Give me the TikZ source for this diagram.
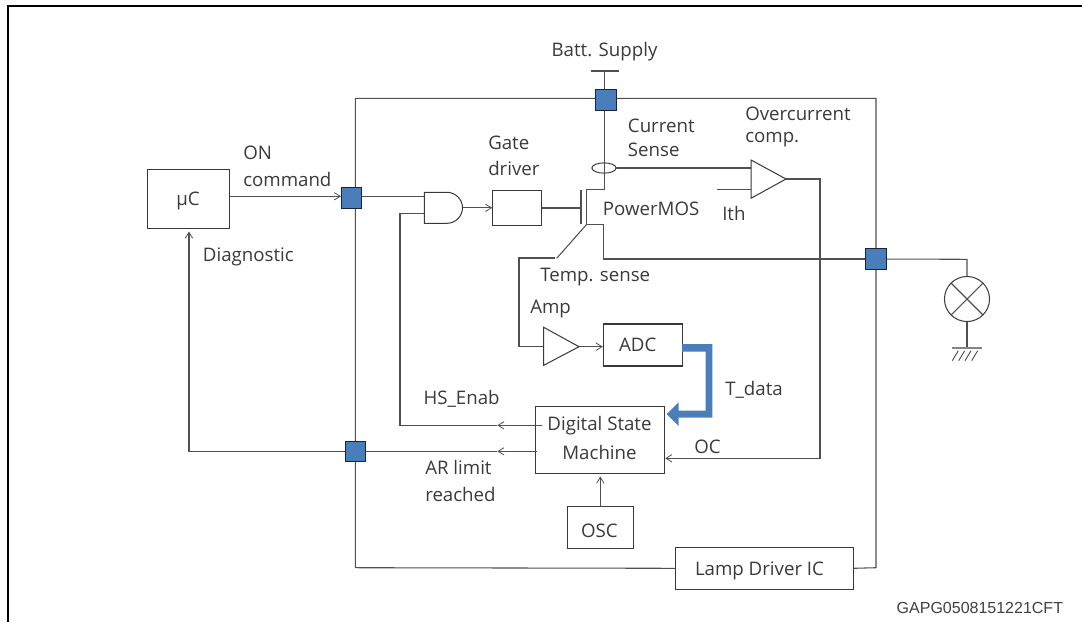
\documentclass[tikz,border=0pt]{standalone}
\usepackage{fontspec}
\setmainfont{Open Sans}
\setsansfont{Liberation Sans}
\usetikzlibrary{arrows.meta,shapes.geometric}
\definecolor{wire}{HTML}{505050}
\definecolor{pinblue}{HTML}{4A7EBB}
\definecolor{txt}{HTML}{3A3A3A}
\tikzset{
  x=0.75pt,y=-0.75pt,
  wireline/.style={draw=wire,line width=0.8pt},
  box/.style={draw=black!78,line width=0.8pt,fill=white,inner sep=0pt},
  pin/.style={draw=black!70!pinblue,fill=pinblue,line width=0.6pt,minimum size=15.6pt,inner sep=0pt,outer sep=0pt,rectangle},
  lab/.style={text=txt,font=\fontsize{14}{17}\selectfont,inner sep=0pt},
  lableft/.style={lab,anchor=west},
  tip/.style={-{Straight Barb[length=4.5pt,width=5.5pt,line width=0.6pt]}},
  gateshape/.style={draw=black!78,line width=0.75pt,fill=white}
}
\begin{document}
\begin{tikzpicture}
\useasboundingbox (0,0) rectangle (1082,622);
% frame
\draw[black,line width=1.6pt] (8,622) -- (8,6) -- (1082,6);
% pin positions
\coordinate (pinT) at (605.5,100);
\coordinate (pinL) at (351.3,198);
\coordinate (pinD) at (355.3,451.3);
\coordinate (pinR) at (876,259);
% boxes
\node[box,minimum width=133pt,minimum height=31.5pt] (lamp) at (764.4,568.3) {};
\node[lab] (lamptext) at (759.5,571) {Lamp Driver IC};
\node[box,minimum width=61.7pt,minimum height=44.6pt] (uc) at (188.8,199) {};
\node[lab] (uctext) at (188,201) {µC};
\node[box,minimum width=36.75pt,minimum height=26.55pt] (gd) at (517.2,208) {};
\node[box,minimum width=59pt,minimum height=31.5pt] (adc) at (642.7,345) {};
\node[lab] (adct) at (637.7,345) {ADC};
\node[box,minimum width=97pt,minimum height=50.5pt] (fsm) at (600,439.7) {};
\node[box,minimum width=49.5pt,minimum height=31.2pt] (osc) at (600.7,527.5) {};
\node[lab] (osct) at (599.3,530.7) {OSC};
% IC outline
\draw[wireline] (lamp.west) -- (355.3,567.7) -- (355.3,98.3) -- (876,98.3) -- (876,567.7) -- (lamp.east);
% battery
\coordinate (batttop) at (604.7,71);
\coordinate (battl) at (590.5,71);
\coordinate (battr) at (619,71);
\draw[wireline] (battl) -- (battr);
\node[lab] (batt) at (604.5,52) {Batt. Supply};
% drain wire and MOS
\coordinate (drain) at (604.7,189.3);
\coordinate (chanT) at (586.7,189.3);
\coordinate (chanB) at (586.7,224.3);
\coordinate (srcA) at (603.7,224.3);
\coordinate (srcB) at (603.7,259);
\coordinate (gateT) at (581,190);
\coordinate (gateB) at (581,224);
\draw[wireline] (batttop) -- (drain) -- (chanT) -- (chanB) -- (srcA) -- (srcB) -- (pinR);
\draw[wireline] (gateT) -- (gateB);
\draw[wireline] (gd.east) -- (581,208);
\node[lableft] (pm) at (602.7,209) {PowerMOS};
% uC connections
\draw[wireline,tip] (uc.east |- 0,196.3) -- (341,196.3);
\node[lableft] (on) at (243,153) {ON};
\node[lableft] (cmd) at (243,179) {command};
\node[lableft] (diag) at (202.7,257) {Diagnostic};
\coordinate (diagcorner) at (189,451.3);
\coordinate (diagend) at (189,231.5);
\draw[wireline,tip] (pinD) -- (diagcorner) -- (diagend);
% AND gate
\coordinate (andA) at (424.3,196.7);
\coordinate (andB) at (424.3,213.3);
\coordinate (andO) at (462.5,207.8);
\draw[wireline] (pinL |- andA) -- (andA);
\draw[gateshape] (424.3,192.3) -- (447,192.3) .. controls (455.5,192.3) and (462.5,199.3) .. (andO) .. controls (462.5,216.3) and (455.5,223.3) .. (447,223.3) -- (424.3,223.3) -- cycle;
\draw[wireline,tip] (andO) -- (gd.west |- andO);
\node[lableft] (gatel) at (488,143) {Gate};
\node[lableft] (gatel2) at (488,168) {driver};
% current sense
\node[draw=black!75,line width=0.75pt,ellipse,minimum width=18.2pt,minimum height=7.7pt,inner sep=0pt,outer sep=0pt] (cs) at (604,168) {};
\node[lableft] (cur1) at (627.7,125.7) {Current};
\node[lableft] (cur2) at (627.7,150) {Sense};
% comparator
\coordinate (caT) at (751,160);
\coordinate (caB) at (751,198.3);
\coordinate (caO) at (786,179);
\coordinate (caIn) at (751,168);
\coordinate (caIth) at (751,189.3);
\coordinate (ithstart) at (716.7,189.3);
\draw[wireline] (cs.east) -- (caIn);
\draw[wireline] (ithstart) -- (caIth);
\draw[gateshape] (caT) -- (caO) -- (caB) -- cycle;
\node[lableft] (ov1) at (745,114) {Overcurrent};
\node[lableft] (ov2) at (745,140) {comp.};
\node[lableft] (ith) at (722,213) {Ith};
% temp sense
\coordinate (tmid) at (556.7,258.3);
\coordinate (tleft) at (555,258);
\coordinate (tcorner) at (519,258);
\coordinate (aIn) at (519,346.7);
\coordinate (aT) at (543.7,327.3);
\coordinate (aB) at (543.7,365.3);
\coordinate (aO) at (579,346.7);
\draw[wireline] (chanB) -- (tmid);
\draw[wireline] (tleft) -- (tcorner) -- (aIn) -- (543.7,346.7);
\draw[gateshape] (aT) -- (aO) -- (aB) -- cycle;
\node[lableft] (temp) at (540,277) {Temp. sense};
\node[lableft] (ampl) at (530,309) {Amp};
\draw[wireline,tip] (aO) -- (adc.west |- aO);
% digital state machine
\node[lab] (f1) at (599.5,426) {Digital State};
\node[lab] (f2) at (599.5,452) {Machine};
% bus
\fill[pinblue] (682,344) -- (712.3,344) -- (712.3,417.7) -- (678.7,417.7) -- (678.7,426) -- (666.7,414) -- (678.7,402.3) -- (678.7,410.7) -- (705.7,410.7) -- (705.7,351.7) -- (682,351.7) -- cycle;
\node[lableft] (td) at (725,390) {T\_data};
% OSC arrow
\draw[wireline,tip] (600.3,506.7) -- (600.3,476.5);
% HS enable
\coordinate (hsstart) at (541.7,425.3);
\coordinate (hsmid) at (497.3,425.3);
\coordinate (hscorner) at (400,425.3);
\coordinate (hsup) at (400,213.3);
\draw[wireline,tip] (hsstart) -- (hsmid);
\draw[wireline] (hsmid) -- (hscorner) -- (hsup) -- (andB);
\node[lableft] (hs) at (423.3,399) {HS\_Enab};
% AR limit
\coordinate (arstart) at (537.3,451.3);
\coordinate (armid) at (497.3,451.3);
\draw[wireline,tip] (arstart) -- (armid);
\draw[wireline] (armid) -- (pinD);
\node[lableft] (ar1) at (425,467.7) {AR limit};
\node[lableft] (ar2) at (425,494) {reached};
% OC
\coordinate (oc1) at (820,179);
\coordinate (oc2) at (820,458.3);
\draw[wireline,tip] (caO) -- (oc1) -- (oc2) -- (fsm.east |- oc2);
\node[lableft] (oc) at (694,446.7) {OC};
% lamp
\node[draw=black!75,line width=0.8pt,circle,minimum size=33.8pt,inner sep=0pt,outer sep=0pt] (lampc) at (967,299) {};
\coordinate (lampcorner) at (967,259.3);
\draw[wireline] (pinR) -- (lampcorner) -- (lampc.north);
\draw[wireline] (lampc.45) -- (lampc.225);
\draw[wireline] (lampc.135) -- (lampc.315);
\coordinate (gnd) at (967,348);
\coordinate (gndl) at (952.3,348);
\coordinate (gndr) at (981.7,348);
\draw[wireline] (lampc.south) -- (gnd);
\draw[wire!70,line width=1.1pt] (gndl) -- (gndr);
\foreach \i in {958.3,964.7,971,977.7}{\draw[wire,line width=0.7pt] (\i,350.7) -- (\i-6,360.7);}
% pin squares
\node[pin] (pT) at (pinT) {};
\node[pin] (pL) at (pinL) {};
\node[pin] (pD) at (pinD) {};
\node[pin] (pR) at (pinR) {};
% id
\node[text=black!75,font=\sffamily\fontsize{12}{14}\selectfont,inner sep=0pt,anchor=east] (gid) at (1063.3,608.3) {GAPG0508151221CFT};
\end{tikzpicture}
\end{document}
